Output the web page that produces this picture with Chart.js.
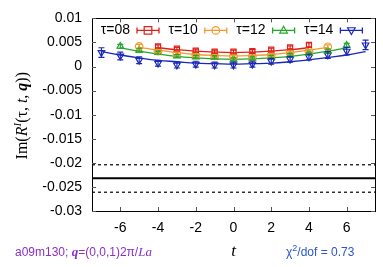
<!DOCTYPE html>
<html>
<head>
<meta charset="utf-8">
<script src="https://cdn.jsdelivr.net/npm/chart.js@4/dist/chart.umd.min.js"></script>
<style>
  html, body { margin: 0; padding: 0; background: #fff; }
  #wrap { width: 383px; height: 267px; }
</style>
</head>
<body>
<div id="wrap"><canvas id="myChart" width="383" height="267"></canvas></div>
<script>
// t values for each source-sink separation
var t08 = [-4, -3, -2, -1, 0, 1, 2, 3, 4]
var t10 = [-5, -4, -3, -2, -1, 0, 1, 2, 3, 4, 5]
var t12 = [-6, -5, -4, -3, -2, -1, 0, 1, 2, 3, 4, 5, 6]
var t14 = [-7, -6, -5, -4, -3, -2, -1, 0, 1, 2, 3, 4, 5, 6, 7]

// data points
var r08 = [0.0042, 0.0037, 0.0033, 0.0031, 0.0031, 0.0032, 0.0035, 0.0040, 0.0045]
var r10 = [0.0042, 0.0032, 0.0027, 0.0024, 0.0022, 0.0021, 0.0021, 0.0024, 0.0029, 0.0032, 0.0041]
var r12 = [0.0042, 0.0034, 0.0029, 0.0022, 0.0020, 0.0019, 0.0015, 0.0017, 0.0020, 0.0024, 0.0027, 0.0032, 0.0044]
var r14 = [0.0029, 0.0022, 0.0013, 0.0007, 0.0003, 0.0005, 0.0003, 0.0003, 0.0005, 0.0011, 0.0015, 0.0020, 0.0024, 0.0032, 0.0045]

// error bars
var e08 = [0.0003, 0.0003, 0.0003, 0.0003, 0.0003, 0.0003, 0.0003, 0.0003, 0.0004]
var e10 = [0.0004, 0.0003, 0.0003, 0.0003, 0.0003, 0.0003, 0.0003, 0.0003, 0.0003, 0.0003, 0.0004]
var e12 = [0.0004, 0.0004, 0.0003, 0.0003, 0.0003, 0.0003, 0.0003, 0.0003, 0.0003, 0.0003, 0.0003, 0.0004, 0.0004]
var e14 = [0.0010, 0.0008, 0.0007, 0.0006, 0.0006, 0.0006, 0.0006, 0.0006, 0.0006, 0.0006, 0.0006, 0.0006, 0.0007, 0.0008, 0.0010]

// fit curves
var f08 = [0.0039, 0.0035, 0.0032, 0.0030, 0.0029, 0.0030, 0.0032, 0.0035, 0.0039]
var f10 = [0.0040, 0.0034, 0.0029, 0.0025, 0.0023, 0.0022, 0.0023, 0.0025, 0.0029, 0.0034, 0.0040]
var f12 = [0.0039, 0.0032, 0.0026, 0.0021, 0.0018, 0.0016, 0.0015, 0.0016, 0.0018, 0.0021, 0.0026, 0.0032, 0.0039]
var f14 = [0.0031, 0.0024, 0.0018, 0.0013, 0.0010, 0.0007, 0.0006, 0.0005, 0.0006, 0.0007, 0.0010, 0.0014, 0.0019, 0.0024, 0.0031]

// extracted value and its error band
var band = [-0.0204, -0.0232, -0.0261]
var xRange = [-7.5, 7.5]
var xTicks = [-6, -4, -2, 0, 2, 4, 6]
var yRange = [-0.03, 0.01]

var labels = ["τ=08", "τ=10", "τ=12", "τ=14"]
var colors = ["#e0201c", "#f39a2a", "#22a82a", "#1a28b8"]
var styles = ["rect", "circle", "triangle", "triangle"]
var rots = [0, 0, 0, 180]

var series = [[t08, r08, e08, f08], [t10, r10, e10, f10], [t12, r12, e12, f12], [t14, r14, e14, f14]]

function pts(ts, ys) {
  return ts.map(function (t, i) { return {x: t, y: ys[i]} })
}

var datasets = []
series.forEach(function (s, k) {
  datasets.push({
    label: labels[k],
    data: pts(s[0], s[1]),
    errs: s[2],
    showLine: false,
    pointStyle: styles[k],
    rotation: rots[k],
    pointRadius: k == 0 ? 3.6 : 3.8,
    pointBorderWidth: 1.2,
    borderColor: colors[k],
    backgroundColor: "rgba(0,0,0,0)",
    order: 1
  })
  datasets.push({
    label: labels[k] + " fit",
    data: pts(s[0], s[3]),
    showLine: true,
    pointRadius: 0,
    borderWidth: 1.3,
    borderColor: colors[k],
    tension: 0.4,
    order: 2
  })
})
band.forEach(function (v, k) {
  datasets.push({
    label: "band" + k,
    data: [{x: xRange[0], y: v}, {x: xRange[1], y: v}],
    showLine: true,
    pointRadius: 0,
    borderColor: "#000",
    borderWidth: k == 1 ? 2 : 1.2,
    borderDash: k == 1 ? [] : [3, 3],
    order: 3
  })
})

function drawMarker(ctx, style, x, y, r, color) {
  ctx.save()
  ctx.strokeStyle = color
  ctx.lineWidth = 1.2
  ctx.beginPath()
  if (style == 0) {
    ctx.rect(x - r, y - r, 2 * r, 2 * r)
  } else if (style == 1) {
    ctx.arc(x, y, r, 0, Math.PI * 2)
  } else {
    var d = style == 2 ? 1 : -1
    ctx.moveTo(x, y - d * r * 1.1)
    ctx.lineTo(x + r, y + d * r * 0.7)
    ctx.lineTo(x - r, y + d * r * 0.7)
    ctx.closePath()
  }
  ctx.stroke()
  ctx.restore()
}

// draw a row of text runs with different fonts
function richText(ctx, runs, x, y) {
  var cx = x
  runs.forEach(function (r) {
    ctx.font = r.font
    ctx.fillText(r.text, cx, y + (r.dy || 0))
    cx += ctx.measureText(r.text).width
  })
  return cx
}

var decorPlugin = {
  id: "decor",
  afterDatasetsDraw: function (chart) {
    var ctx = chart.ctx
    var xs = chart.scales.x, ys = chart.scales.y
    // error bars
    chart.data.datasets.forEach(function (ds) {
      if (!ds.errs) return
      ctx.save()
      ctx.strokeStyle = ds.borderColor
      ctx.lineWidth = 1.2
      ds.data.forEach(function (p, i) {
        var px = xs.getPixelForValue(p.x)
        var y1 = ys.getPixelForValue(p.y + ds.errs[i])
        var y2 = ys.getPixelForValue(p.y - ds.errs[i])
        ctx.beginPath()
        ctx.moveTo(px, y1); ctx.lineTo(px, y2)
        ctx.moveTo(px - 3, y1); ctx.lineTo(px + 3, y1)
        ctx.moveTo(px - 3, y2); ctx.lineTo(px + 3, y2)
        ctx.stroke()
      })
      ctx.restore()
    })
  },
  afterDraw: function (chart) {
    var ctx = chart.ctx
    var a = chart.chartArea
    var xs = chart.scales.x, ys = chart.scales.y
    ctx.save()
    // frame
    ctx.strokeStyle = "#000"
    ctx.lineWidth = 1
    ctx.strokeRect(Math.round(a.left) + 0.5, Math.round(a.top) + 0.5, Math.round(a.right - a.left), Math.round(a.bottom - a.top))
    // inward ticks
    ctx.strokeStyle = "#555"
    ctx.beginPath()
    xTicks.forEach(function (t) {
      var px = Math.round(xs.getPixelForValue(t)) + 0.5
      ctx.moveTo(px, a.bottom); ctx.lineTo(px, a.bottom - 4)
      ctx.moveTo(px, a.top); ctx.lineTo(px, a.top + 4)
    })
    ys.ticks.forEach(function (t) {
      var py = Math.round(ys.getPixelForValue(t.value)) + 0.5
      ctx.moveTo(a.left, py); ctx.lineTo(a.left + 4, py)
      ctx.moveTo(a.right, py); ctx.lineTo(a.right - 4, py)
    })
    ctx.stroke()

    // legend: text then sample
    ctx.textBaseline = "middle"
    var ly = a.top + 12
    labels.forEach(function (lab, k) {
      var sx = a.left + 45 + k * 67.8
      ctx.fillStyle = "#000"
      ctx.font = "14px 'Liberation Sans', Arial, sans-serif"
      ctx.textAlign = "right"
      ctx.fillText(lab, sx - 7, ly)
      ctx.strokeStyle = colors[k]
      ctx.lineWidth = 1.3
      ctx.beginPath()
      ctx.moveTo(sx, ly); ctx.lineTo(sx + 22, ly)
      ctx.moveTo(sx, ly - 3); ctx.lineTo(sx, ly + 3)
      ctx.moveTo(sx + 22, ly - 3); ctx.lineTo(sx + 22, ly + 3)
      ctx.stroke()
      drawMarker(ctx, k, sx + 11, ly, 3.8, colors[k])
    })

    // y axis title, rotated
    ctx.textAlign = "left"
    ctx.textBaseline = "alphabetic"
    ctx.fillStyle = "#000"
    var serif = "'Liberation Serif', 'DejaVu Serif', serif"
    var runs = [
      {text: "Im(", font: "16px " + serif},
      {text: "R", font: "italic 16px " + serif},
      {text: "I", font: "italic 11px " + serif, dy: -6},
      {text: "(τ, ", font: "16px " + serif},
      {text: "t", font: "italic 16px " + serif},
      {text: ", ", font: "16px " + serif},
      {text: "q", font: "bold italic 16px " + serif},
      {text: "))", font: "16px " + serif}
    ]
    var w = 0
    runs.forEach(function (r) { ctx.font = r.font; w += ctx.measureText(r.text).width })
    ctx.save()
    ctx.translate(27, (a.top + a.bottom) / 2 + 1)
    ctx.rotate(-Math.PI / 2)
    richText(ctx, runs, -w / 2, 0)
    ctx.restore()

    // x axis title
    ctx.font = "italic 17px " + serif
    ctx.textAlign = "center"
    ctx.fillText("t", xs.getPixelForValue(0), 256)

    // bottom notes
    ctx.textAlign = "left"
    ctx.fillStyle = "#8a2fc8"
    richText(ctx, [
      {text: "a09m130; ", font: "12px 'Liberation Sans', Arial, sans-serif"},
      {text: "q", font: "bold italic 13px " + serif},
      {text: "=(0,0,1)2π/", font: "12px 'Liberation Sans', Arial, sans-serif"},
      {text: "La", font: "italic 13px " + serif}
    ], 15, 256)
    ctx.fillStyle = "#2a55c8"
    richText(ctx, [
      {text: "χ", font: "12px 'Liberation Sans', Arial, sans-serif"},
      {text: "2", font: "9px 'Liberation Sans', Arial, sans-serif", dy: -5},
      {text: "/dof = 0.73", font: "12px 'Liberation Sans', Arial, sans-serif"}
    ], 286, 256)
    ctx.restore()
  }
}

new Chart("myChart", {
  type: "scatter",
  data: {datasets: datasets},
  options: {
    responsive: false,
    animation: false,
    devicePixelRatio: 1,
    layout: {padding: {left: 0, right: 8, top: 11, bottom: 0}},
    plugins: {legend: {display: false}, tooltip: {enabled: false}},
    scales: {
      x: {
        type: "linear",
        min: xRange[0],
        max: xRange[1],
        grid: {display: false, drawTicks: false},
        border: {display: false},
        afterBuildTicks: function (s) { s.ticks = xTicks.map(function (v) { return {value: v} }) },
        afterFit: function (s) { s.height = 56 },
        ticks: {
          padding: 9,
          color: "#000",
          font: {family: "'Liberation Sans', Arial, sans-serif", size: 14},
          maxRotation: 0,
          callback: function (v) { return String(v) }
        }
      },
      y: {
        type: "linear",
        min: yRange[0],
        max: yRange[1],
        grid: {display: false, drawTicks: false},
        border: {display: false},
        afterFit: function (s) { s.width = 92 },
        ticks: {
          stepSize: 0.005,
          padding: 10,
          color: "#000",
          font: {family: "'Liberation Sans', Arial, sans-serif", size: 14},
          callback: function (v) {
            if (Math.abs(v) < 1e-9) return "0"
            return String(parseFloat(v.toFixed(4)))
          }
        }
      }
    }
  },
  plugins: [decorPlugin]
})
</script>
</body>
</html>
